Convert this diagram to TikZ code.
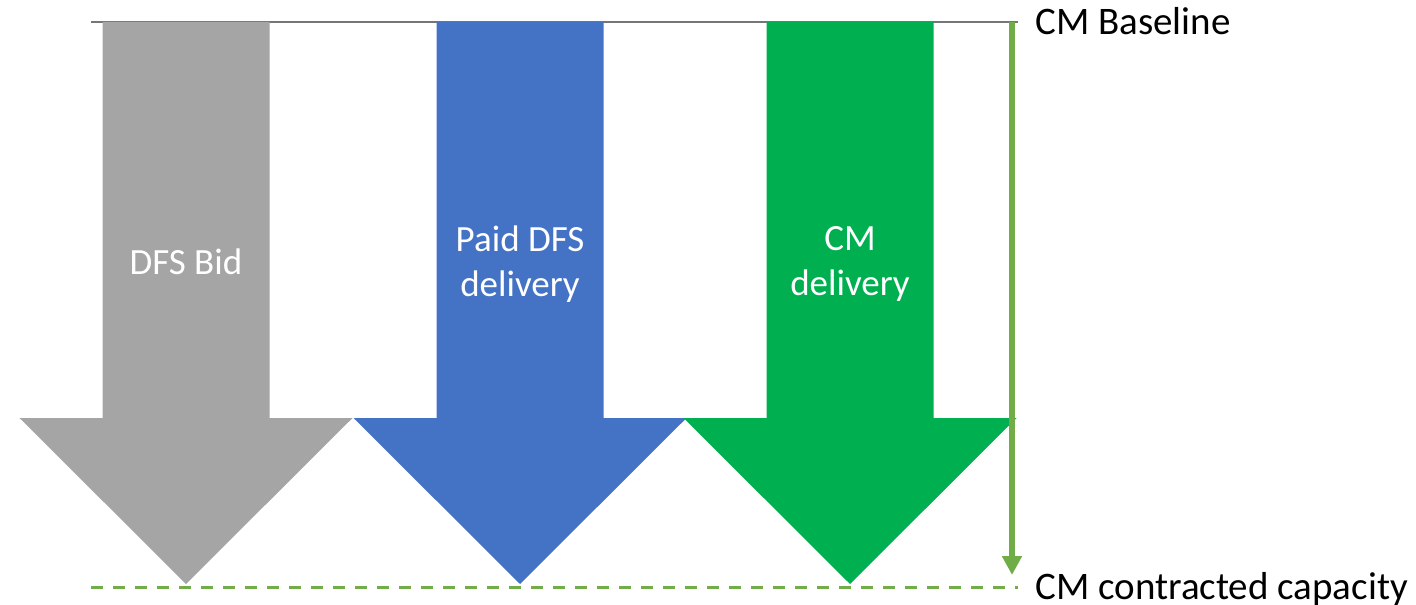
\documentclass[tikz,border=0pt]{standalone}
\usepackage{fontspec}
\setmainfont{Carlito}
\usetikzlibrary{arrows.meta}

\definecolor{bidgray}{RGB}{165,165,165}
\definecolor{paidblue}{RGB}{68,114,196}
\definecolor{cmgreen}{RGB}{0,176,80}
\definecolor{capgreen}{RGB}{112,173,71}
\definecolor{basegray}{RGB}{118,118,118}

\begin{document}
\begin{tikzpicture}[x=0.5pt,y=-0.5pt]
\tikzstyle{every node}+=[inner sep=0pt]
\tikzstyle{inlbl}=[text=white,align=center,font=\fontsize{18.5}{22.5}\selectfont]
\tikzstyle{sidelbl}=[anchor=base west,font=\fontsize{19.5}{23}\selectfont]
\useasboundingbox (0,0) rectangle (1416,604);
% levels
\coordinate (blw) at (91,22);
\coordinate (ble) at (1018,22);
\coordinate (capw) at (91,587);
\coordinate (cape) at (1018,587);
\draw [basegray,line width=1pt] (blw) -- (ble);
\draw [capgreen,line width=1.5pt,dash pattern=on 6pt off 5pt] (capw) -- (cape);
% block arrows
\foreach \cx/\col in {186/bidgray,520/paidblue,850/cmgreen}
  \fill [\col] (\cx-83.5,22) -- (\cx+83.5,22) -- (\cx+83.5,418) -- (\cx+166.5,418)
    -- (\cx,584) -- (\cx-166.5,418) -- (\cx-83.5,418) -- cycle;
\node [inlbl] (bid) at (186,262) {DFS Bid};
\node [inlbl] (paid) at (520,264) {Paid DFS\\delivery};
\node [inlbl] (cmdel) at (850,264) {CM\\delivery};
% reduction
\coordinate (redtop) at (1012,22);
\coordinate (redbot) at (1012,575);
\draw [capgreen,line width=2.75pt,-{Triangle[width=9.5pt,length=9.5pt]}] (redtop) -- (redbot);
\node [sidelbl] (base) at (1035,35) {CM Baseline};
\node [sidelbl] (cap) at (1035,599) {CM contracted capacity};
\end{tikzpicture}
\end{document}
